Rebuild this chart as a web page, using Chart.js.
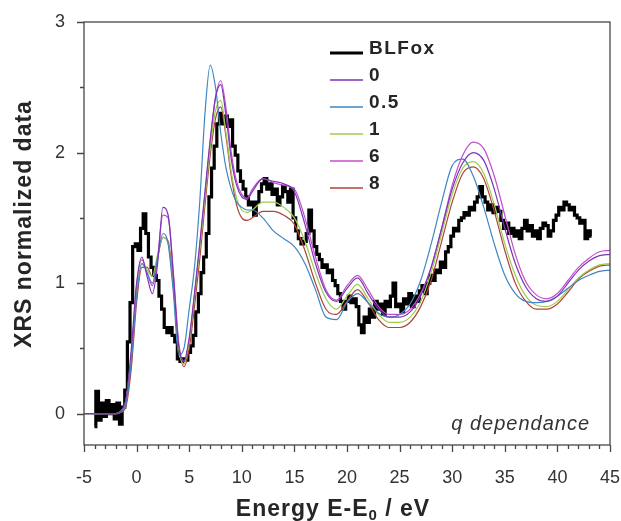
<!DOCTYPE html>
<html>
<head>
<meta charset="utf-8">
<script src="https://cdn.jsdelivr.net/npm/chart.js@4.4.0/dist/chart.umd.min.js"></script>
<style>
  html, body { margin: 0; padding: 0; background: #fff; }
  #wrap { width: 621px; height: 521px; }
</style>
</head>
<body>
<div id="wrap"><canvas id="xrs" width="621" height="521"></canvas></div>
<script>
// measured BLFox spectrum, one value every 0.25 eV from -4 eV
const blfoxStart = -4;
const blfoxStep = 0.25;
const blfox = [
  -0.10, 0.17, -0.05, 0.08,
  -0.02, 0.10, 0.00, 0.07,
  -0.04, 0.08, -0.08, 0.05,
  0.18, 0.55, 0.85, 1.28,
  1.30, 1.25, 1.42, 1.53,
  1.38, 1.20, 1.12, 1.06,
  1.02, 0.90, 0.80, 0.66,
  0.62, 0.66, 0.60, 0.55,
  0.42, 0.40, 0.42, 0.41,
  0.47, 0.52, 0.60, 0.78,
  0.92, 1.08, 1.20, 1.38,
  1.66, 1.88, 2.05, 2.22,
  2.30, 2.22, 2.28, 2.20,
  2.25, 2.05, 1.98, 1.86,
  1.78, 1.72, 1.66, 1.60,
  1.62, 1.52, 1.62, 1.70,
  1.76, 1.80, 1.72, 1.76,
  1.68, 1.72, 1.60, 1.66,
  1.74, 1.70, 1.62, 1.72,
  1.50, 1.40, 1.34, 1.30,
  1.32, 1.38, 1.56, 1.40,
  1.28, 1.22, 1.18, 1.12,
  1.14, 1.08, 1.10, 1.02,
  0.98, 0.92, 0.86, 0.80,
  0.86, 0.90, 0.85, 0.88,
  0.82, 0.68, 0.62, 0.74,
  0.70, 0.80, 0.74, 0.86,
  0.80, 0.84, 0.76, 0.86,
  0.82, 0.90, 1.00, 0.82,
  0.84, 0.78, 0.88, 0.84,
  0.92, 0.82, 0.90, 0.86,
  0.94, 0.98, 0.92, 1.00,
  1.06, 1.02, 1.10, 1.08,
  1.16, 1.12, 1.24, 1.28,
  1.36, 1.42, 1.40, 1.48,
  1.50, 1.54, 1.52, 1.58,
  1.56, 1.62, 1.66, 1.74,
  1.66, 1.62, 1.56, 1.60,
  1.54, 1.58, 1.55, 1.48,
  1.42, 1.46, 1.38, 1.42,
  1.36, 1.40, 1.34, 1.42,
  1.48, 1.40, 1.44, 1.36,
  1.40, 1.34, 1.42, 1.46,
  1.44, 1.36, 1.40, 1.48,
  1.52, 1.58, 1.56, 1.62,
  1.60, 1.56, 1.58, 1.52,
  1.50, 1.46, 1.48, 1.34,
  1.40, 1.36
];

// simulated spectra for each q, on a shared energy grid (eV)
const simEnergy = [-5, -2,
  -1.5, -1, -0.5, 0, 0.5, 1, 1.5, 2, 2.5, 3, 3.5, 4, 4.5, 5, 5.5, 6, 6.5, 7, 7.5, 8, 8.5, 9, 9.5, 10, 10.5,
  11, 12, 13, 14, 15, 16, 17, 18, 19, 20, 21, 22, 23, 24, 25, 26, 27, 28, 29, 30, 31, 32, 33, 34, 35,
  36, 37, 38, 39, 40, 41, 42, 43, 44, 45];

const simQ0 = [0.00, 0.00,
  0.02, 0.12, 0.50, 1.00, 1.20, 1.05, 0.92, 1.15, 1.58, 1.52, 1.05, 0.52, 0.40, 0.58, 0.92, 1.30, 1.70, 2.10, 2.42, 2.52, 2.28, 1.95, 1.75, 1.66, 1.64,
  1.70, 1.80, 1.78, 1.76, 1.70, 1.45, 1.15, 0.93, 0.86, 0.96, 1.04, 0.92, 0.80, 0.74, 0.74, 0.78, 0.90, 1.12, 1.42, 1.72, 1.92, 2.00, 1.94, 1.72, 1.42,
  1.15, 0.97, 0.88, 0.86, 0.90, 1.00, 1.10, 1.17, 1.21, 1.22];

const simQ05 = [0.00, 0.00,
  0.01, 0.08, 0.40, 0.90, 1.15, 1.08, 1.00, 1.20, 1.38, 1.30, 0.92, 0.45, 0.50, 0.80, 1.12, 1.62, 2.30, 2.67, 2.50, 2.15, 1.88, 1.72, 1.62, 1.58, 1.56,
  1.56, 1.50, 1.40, 1.34, 1.28, 1.15, 0.95, 0.74, 0.72, 0.85, 0.92, 0.85, 0.77, 0.74, 0.76, 0.84, 1.02, 1.30, 1.62, 1.90, 1.95, 1.82, 1.58, 1.30, 1.06,
  0.92, 0.86, 0.85, 0.86, 0.90, 0.96, 1.02, 1.06, 1.09, 1.10];

const simQ1 = [0.00, 0.00,
  0.02, 0.10, 0.45, 0.95, 1.15, 1.10, 1.05, 1.22, 1.35, 1.30, 0.95, 0.50, 0.38, 0.56, 0.90, 1.26, 1.66, 2.04, 2.32, 2.40, 2.15, 1.85, 1.65, 1.56, 1.54,
  1.56, 1.62, 1.62, 1.58, 1.50, 1.32, 1.08, 0.88, 0.80, 0.90, 0.99, 0.88, 0.76, 0.70, 0.70, 0.74, 0.86, 1.08, 1.38, 1.68, 1.88, 1.93, 1.84, 1.60, 1.30,
  1.06, 0.90, 0.83, 0.82, 0.86, 0.95, 1.04, 1.10, 1.14, 1.15];

const simQ6 = [0.00, 0.00,
  0.02, 0.10, 0.45, 0.98, 1.18, 1.08, 0.98, 1.20, 1.52, 1.50, 1.08, 0.55, 0.40, 0.56, 0.90, 1.28, 1.68, 2.08, 2.42, 2.55, 2.34, 2.00, 1.78, 1.68, 1.65,
  1.72, 1.80, 1.77, 1.75, 1.72, 1.50, 1.20, 0.95, 0.87, 0.98, 1.06, 0.95, 0.82, 0.76, 0.76, 0.80, 0.92, 1.12, 1.42, 1.75, 1.98, 2.08, 2.03, 1.82, 1.52,
  1.22, 1.01, 0.91, 0.88, 0.92, 1.02, 1.12, 1.19, 1.24, 1.25];

const simQ8 = [0.00, 0.00,
  0.01, 0.06, 0.35, 0.85, 1.12, 1.12, 1.05, 1.20, 1.35, 1.32, 0.98, 0.52, 0.36, 0.50, 0.82, 1.18, 1.60, 1.98, 2.26, 2.35, 2.12, 1.82, 1.60, 1.50, 1.48,
  1.50, 1.55, 1.55, 1.52, 1.45, 1.25, 1.00, 0.80, 0.76, 0.86, 0.95, 0.85, 0.72, 0.66, 0.66, 0.70, 0.82, 1.02, 1.32, 1.62, 1.84, 1.89, 1.80, 1.55, 1.25,
  1.00, 0.86, 0.80, 0.80, 0.84, 0.93, 1.03, 1.09, 1.13, 1.14];

const simSeries = [simQ0, simQ05, simQ1, simQ6, simQ8];
const simLabels = ['0', '0.5', '1', '6', '8'];
const simColors = ['#7b35b5', '#3f86c2', '#9ccc4a', '#c44ccc', '#b0443a'];

const xTicks = [-5, 0, 5, 10, 15, 20, 25, 30, 35, 40, 45];
const yTicks = [0, 1, 2, 3];

const FONT = "'Liberation Sans', Arial, sans-serif";
const INK = '#262626';

// box around the plot plus outward major/minor tick marks
const frameTicks = {
  id: 'frameTicks',
  afterDraw(chart) {
    const { ctx, chartArea: a, scales: { x, y } } = chart;
    ctx.save();
    ctx.strokeStyle = '#474747';
    ctx.lineWidth = 1.3;
    ctx.strokeRect(a.left, a.top, a.right - a.left, a.bottom - a.top);
    ctx.beginPath();
    for (let e = -5; e <= 45; e++) {
      const px = Math.round(x.getPixelForValue(e)) + 0.5;
      const len = e % 5 === 0 ? 7 : 4;
      ctx.moveTo(px, a.bottom);
      ctx.lineTo(px, a.bottom + len);
    }
    for (let v = 0; v <= 3; v += 0.5) {
      const py = Math.round(y.getPixelForValue(v)) + 0.5;
      const len = v % 1 === 0 ? 7 : 4;
      ctx.moveTo(a.left, py);
      ctx.lineTo(a.left - len, py);
    }
    ctx.stroke();
    ctx.restore();
  }
};

// axis titles and the annotation in the lower right corner
const titles = {
  id: 'titles',
  afterDraw(chart) {
    const { ctx } = chart;
    ctx.save();
    ctx.fillStyle = INK;
    ctx.letterSpacing = '1px';

    ctx.save();
    ctx.translate(25, 224);
    ctx.rotate(-Math.PI / 2);
    ctx.font = 'bold 23px ' + FONT;
    ctx.textAlign = 'center';
    ctx.textBaseline = 'middle';
    ctx.fillText('XRS normalized data', 0, 0);
    ctx.restore();

    const big = 'bold 23px ' + FONT;
    const small = 'bold 15px ' + FONT;
    const left = 'Energy E-E', sub = '0', right = ' / eV';
    ctx.font = big;
    const wl = ctx.measureText(left).width, wr = ctx.measureText(right).width;
    ctx.font = small;
    const ws = ctx.measureText(sub).width;
    let px = 333 - (wl + ws + wr) / 2;
    const base = 516;
    ctx.textBaseline = 'alphabetic';
    ctx.textAlign = 'left';
    ctx.font = big;
    ctx.fillText(left, px, base);
    px += wl;
    ctx.font = small;
    ctx.fillText(sub, px, base + 4);
    px += ws;
    ctx.font = big;
    ctx.fillText(right, px, base);

    ctx.font = 'italic 20px ' + FONT;
    ctx.textAlign = 'right';
    ctx.fillStyle = '#333';
    ctx.fillText('q dependance', 590, 430);
    ctx.restore();
  }
};

// legend list inside the plot, upper middle
const insetLegend = {
  id: 'insetLegend',
  afterDraw(chart) {
    const { ctx } = chart;
    ctx.save();
    ctx.font = 'bold 19px ' + FONT;
    ctx.letterSpacing = '1.5px';
    ctx.textBaseline = 'middle';
    ctx.fillStyle = INK;
    chart.data.datasets.forEach((ds, i) => {
      const ty = 49 + i * 27;
      ctx.strokeStyle = ds.borderColor;
      ctx.lineWidth = i === 0 ? 3 : 1.5;
      ctx.beginPath();
      ctx.moveTo(330, ty + 4);
      ctx.lineTo(363, ty + 4);
      ctx.stroke();
      ctx.fillText(ds.label, 369, ty);
    });
    ctx.restore();
  }
};

const datasets = [{
  label: 'BLFox',
  data: blfox.map((v, i) => ({ x: blfoxStart + i * blfoxStep, y: v })),
  borderColor: '#000',
  borderWidth: 3.2,
  stepped: 'middle',
  order: 1
}];
simSeries.forEach((vals, k) => {
  datasets.push({
    label: simLabels[k],
    data: vals.map((v, i) => ({ x: simEnergy[i], y: v })),
    borderColor: simColors[k],
    borderWidth: 1.2,
    cubicInterpolationMode: 'monotone',
    order: 0
  });
});

new Chart(document.getElementById('xrs'), {
  type: 'line',
  data: { datasets },
  options: {
    responsive: false,
    animation: false,
    devicePixelRatio: 1,
    layout: { padding: { top: 22, right: 11, left: 0, bottom: 0 } },
    elements: { point: { radius: 0 } },
    plugins: { legend: { display: false }, tooltip: { enabled: false } },
    scales: {
      x: {
        type: 'linear',
        min: -5,
        max: 45,
        grid: { display: false },
        border: { display: false },
        afterBuildTicks: s => { s.ticks = xTicks.map(v => ({ value: v })); },
        afterFit: s => { s.height = 76; s.paddingLeft = 0; s.paddingRight = 0; },
        ticks: { padding: 14, autoSkip: false, maxRotation: 0, color: '#333', font: { family: FONT, size: 18 } }
      },
      y: {
        min: -0.24,
        max: 3,
        grid: { display: false },
        border: { display: false },
        afterBuildTicks: s => { s.ticks = yTicks.map(v => ({ value: v })); },
        afterFit: s => { s.width = 84; s.paddingTop = 0; s.paddingBottom = 0; },
        ticks: { padding: 11, color: '#333', font: { family: FONT, size: 18 } }
      }
    }
  },
  plugins: [frameTicks, titles, insetLegend]
});
</script>
</body>
</html>
